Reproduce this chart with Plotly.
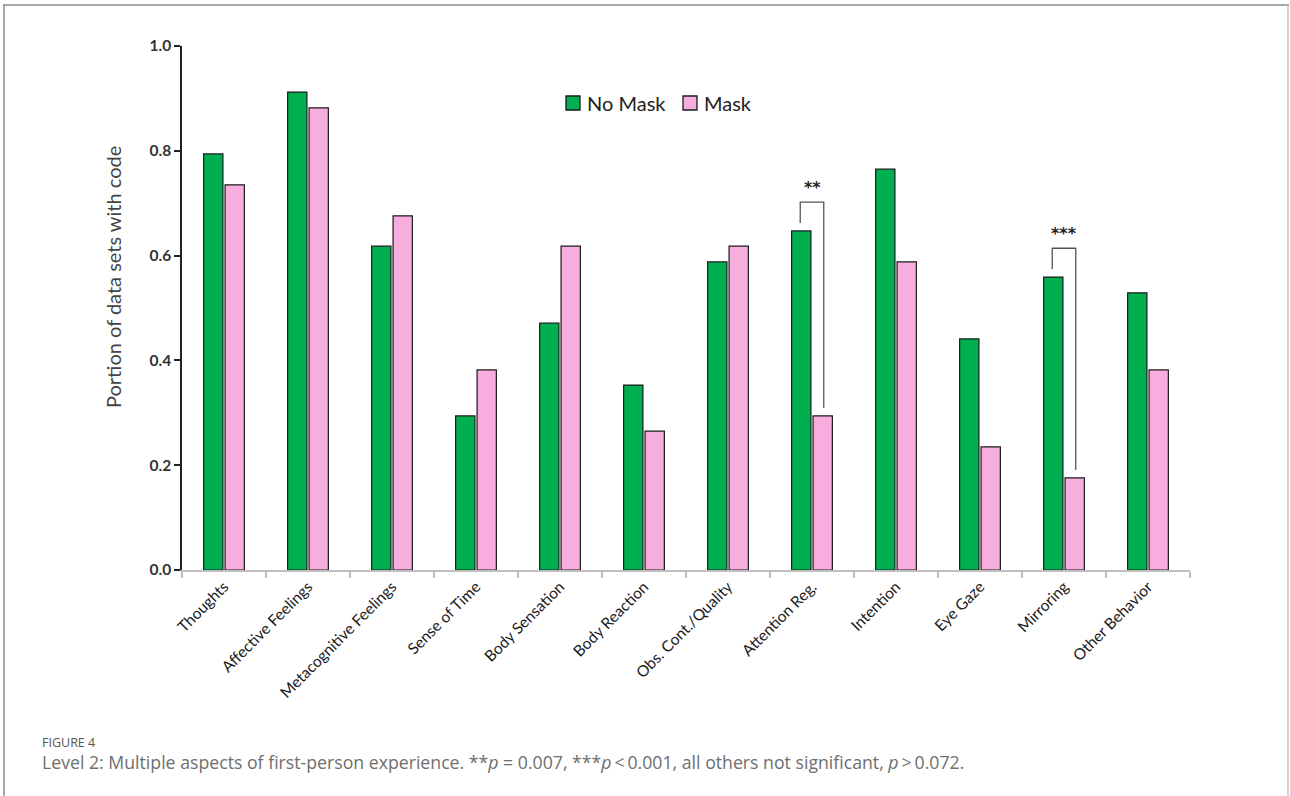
import plotly.graph_objects as go

# Level 2 codes and the share of data sets containing each code
categories = [
    "Thoughts", "Affective Feelings", "Metacognitive Feelings", "Sense of Time",
    "Body Sensation", "Body Reaction", "Obs. Cont./Quality", "Attention Reg.",
    "Intention", "Eye Gaze", "Mirroring", "Other Behavior",
]
no_mask = [0.794, 0.912, 0.618, 0.294, 0.471, 0.353, 0.588, 0.647, 0.765, 0.441, 0.559, 0.529]
mask = [0.735, 0.882, 0.676, 0.382, 0.618, 0.265, 0.618, 0.294, 0.588, 0.235, 0.176, 0.382]

# Significant comparisons: (category index, star label)
sig_pairs = [(7, "**"), (10, "***")]

y_ticks = [0.0, 0.2, 0.4, 0.6, 0.8, 1.0]
y_tick_labels = ["0.0", "0.2", "0.4", "0.6", "0.8", "1.0"]

W, H = 1290, 796
L, R, T, B = 182, 100, 46, 226
PW, PH = W - L - R, H - T - B


def px_x(px):
    return (px - L) / PW


def px_y(py):
    return (H - B - py) / PH


GREEN = "#00B050"
PINK = "#F7AEDF"
OUTLINE = "#1a1a1a"
CHART_FONT = "Lato, sans-serif"

fig = go.Figure()
fig.add_trace(go.Bar(
    name="No Mask", x=categories, y=no_mask,
    marker=dict(color=GREEN, line=dict(color=OUTLINE, width=1.2)),
))
fig.add_trace(go.Bar(
    name="Mask", x=categories, y=mask,
    marker=dict(color=PINK, line=dict(color=OUTLINE, width=1.2)),
))

shapes = []
annotations = []

# Brackets over the significant pairs
half = 0.14  # offset of each bar centre from the category centre
for idx, stars in sig_pairs:
    a, b = no_mask[idx], mask[idx]
    top = max(a, b) + 0.055
    x0, x1 = idx - half, idx + half
    shapes.append(dict(type="path", xref="x", yref="y",
                       path=f"M {x0} {a + 0.015} L {x0} {top} L {x1} {top} L {x1} {b + 0.015}",
                       line=dict(color="#555555", width=1.3)))
    annotations.append(dict(x=idx, y=top + 0.006, xref="x", yref="y", text=f"<b>{stars}</b>",
                            showarrow=False, yanchor="bottom",
                            font=dict(size=16, color="#222222", family="DejaVu Sans, sans-serif")))

# Legend: outlined swatches with labels
legend_items = [("No Mask", GREEN, 566), ("Mask", PINK, 683)]
for label, color, left in legend_items:
    shapes.append(dict(type="rect", xref="paper", yref="paper",
                       x0=px_x(left), x1=px_x(left + 14), y0=px_y(110), y1=px_y(96),
                       fillcolor=color, line=dict(color=OUTLINE, width=1.3)))
    annotations.append(dict(xref="paper", yref="paper", x=px_x(left + 19), y=px_y(103),
                            xanchor="left", yanchor="middle", text=label, showarrow=False,
                            font=dict(size=20, color="#222222", family=CHART_FONT)))

# Axis title, centred a little above the middle of the axis
annotations.append(dict(xref="paper", yref="paper", x=px_x(113), y=px_y(277),
                        xanchor="center", yanchor="middle", textangle=-90,
                        text="Portion of data sets with code", showarrow=False,
                        font=dict(size=20, color="#444444", family=CHART_FONT)))

# Frame around the figure panel (open at the bottom)
shapes += [
    dict(type="line", xref="paper", yref="paper", x0=px_x(3), x1=px_x(1289), y0=px_y(5), y1=px_y(5),
         line=dict(color="#A8A8A8", width=2)),
    dict(type="line", xref="paper", yref="paper", x0=px_x(4), x1=px_x(4), y0=px_y(5), y1=px_y(800),
         line=dict(color="#8C8C8C", width=1.5)),
    dict(type="line", xref="paper", yref="paper", x0=px_x(1288), x1=px_x(1288), y0=px_y(5), y1=px_y(800),
         line=dict(color="#C4C4C4", width=1.5)),
]

# Caption
annotations += [
    dict(xref="paper", yref="paper", x=px_x(40), y=px_y(742), xanchor="left", yanchor="middle",
         text="FIGURE 4", showarrow=False,
         font=dict(size=12.5, color="#555555", family="Open Sans, sans-serif")),
    dict(xref="paper", yref="paper", x=px_x(40), y=px_y(762), xanchor="left", yanchor="middle",
         text="Level 2: Multiple aspects of first-person experience. **<i>p</i> = 0.007, "
              "***<i>p</i>\u2009&lt;\u20090.001, all others not significant, <i>p</i>\u2009&gt;\u20090.072.",
         showarrow=False, font=dict(size=17.7, color="#6e6e6e", family="Open Sans, sans-serif")),
]

fig.update_layout(
    width=W, height=H,
    margin=dict(l=L, r=R, t=T, b=B),
    paper_bgcolor="white", plot_bgcolor="white",
    barmode="group", bargap=0.49, bargroupgap=0.1,
    font=dict(family=CHART_FONT, color="#333333"),
    showlegend=False,
    xaxis=dict(
        type="category", range=[-0.5, len(categories) - 0.5],
        showline=True, linecolor="#BFBFBF", linewidth=1.5,
        ticks="outside", tickson="boundaries", ticklen=6, tickcolor="#BFBFBF", tickwidth=1.5,
        tickangle=-45, tickfont=dict(size=15.5, color="#1a1a1a"),
        showgrid=False, zeroline=False,
    ),
    yaxis=dict(
        range=[0, 1], tickvals=y_ticks, ticktext=y_tick_labels,
        showline=True, linecolor="#222222", linewidth=1.5,
        ticks="outside", ticklen=6, tickcolor="#222222", tickwidth=1.5,
        tickfont=dict(size=15.5, color="#333333", weight="bold"),
        showgrid=False, zeroline=False,
    ),
    shapes=shapes, annotations=annotations,
)

fig.write_html("out.html")
